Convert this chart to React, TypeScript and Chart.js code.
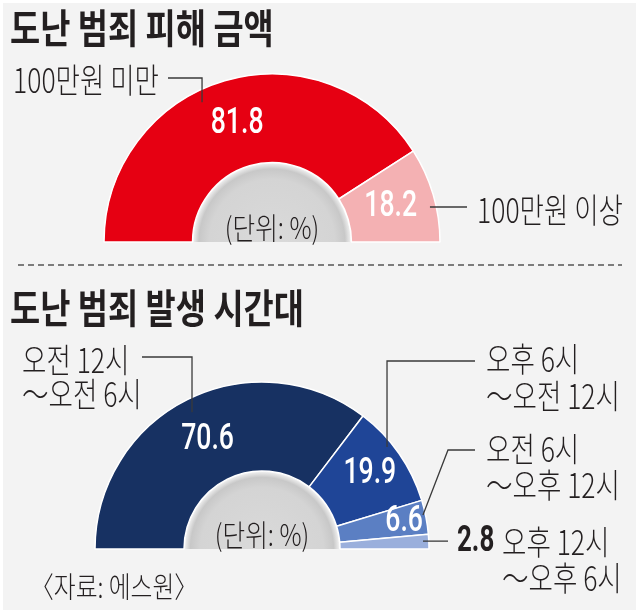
import { useEffect, useRef } from 'react';
import { Chart, registerables } from 'chart.js';

Chart.register(...registerables);

// 도난 범죄 피해 금액 (%)
const amountLabels = ['100만원 미만', '100만원 이상'];
const amountValues = [81.8, 18.2];
const amountColors = ['#e60012', '#f4b1b3'];

// 도난 범죄 발생 시간대 (%)
const timeLabels = ['오전 12시~오전 6시', '오후 6시~오전 12시', '오전 6시~오후 12시', '오후 12시~오후 6시'];
const timeValues = [70.6, 19.9, 6.6, 2.8];
const timeColors = ['#173162', '#1f4597', '#5b7fc3', '#9aafdc'];

const TEXT = '#231f20';
const KR = '"Noto Sans CJK KR", "Noto Sans", sans-serif';

interface Callout {
  i: number;
  x: number;
  y: number[];
  from: [number, number];
  kind: 'v' | 'h' | 'e';
  elbowX?: number;
  angle: number; // degrees, 0 = right, 90 = top
  depth: number; // fraction of outer radius
  valueX?: number;
}

const amountCallouts: Callout[] = [
  { i: 0, x: 13, y: [80], from: [168, 78], kind: 'v', angle: 116.6, depth: 0.93 },
  { i: 1, x: 477, y: [210], from: [467, 0], kind: 'h', angle: 12.5, depth: 0.963 },
];

const timeCallouts: Callout[] = [
  { i: 0, x: 22, y: [95, 129], from: [142, 92], kind: 'v', angle: 117.1, depth: 0.92 },
  { i: 1, x: 486, y: [94, 131], from: [475, 96], kind: 'v', angle: 39.2, depth: 0.966 },
  { i: 2, x: 486, y: [184, 220], from: [475, 185], kind: 'e', elbowX: 448, angle: 11.9, depth: 0.985 },
  { i: 3, x: 502, y: [277, 313], from: [448, 0], kind: 'h', angle: 2.8, depth: 0.965, valueX: 457 },
];

function drawText(
  ctx: CanvasRenderingContext2D,
  text: string,
  x: number,
  y: number,
  font: string,
  color: string,
  align: CanvasTextAlign,
  sx: number
) {
  ctx.save();
  ctx.translate(x, y);
  ctx.scale(sx, 1);
  ctx.font = font;
  ctx.fillStyle = color;
  ctx.textAlign = align;
  ctx.textBaseline = 'middle';
  ctx.fillText(text, 0, 0);
  ctx.restore();
}

interface HalfRingProps {
  labels: string[];
  values: number[];
  colors: string[];
  radius: number;
  cutout: string;
  width: number;
  height: number;
  top: number;
  padding: { left: number; right: number; top: number; bottom: number };
  valueT: (number | null)[];
  callouts: Callout[];
  unitDy: number;
}

function HalfRing(props: HalfRingProps) {
  const canvasRef = useRef<HTMLCanvasElement>(null);
  const chartRef = useRef<Chart | null>(null);

  useEffect(() => {
    if (!canvasRef.current) return;
    if (chartRef.current) chartRef.current.destroy();
    const { labels, values, colors, radius, cutout, padding, valueT, callouts, unitDy } = props;

    const decor = {
      id: 'decor',
      beforeDatasetsDraw(chart: Chart) {
        const arc: any = chart.getDatasetMeta(0).data[0];
        const { x, y, innerRadius } = arc;
        const ctx = chart.ctx;
        const r = innerRadius - 1;
        const g = ctx.createRadialGradient(x, y, 0, x, y, r);
        g.addColorStop(0, '#dadada');
        g.addColorStop(0.8, '#d4d4d4');
        g.addColorStop(0.93, '#c8c8c8');
        g.addColorStop(1, '#ededed');
        ctx.save();
        ctx.beginPath();
        ctx.moveTo(x - r, y);
        ctx.arc(x, y, r, Math.PI, 2 * Math.PI);
        ctx.closePath();
        ctx.fillStyle = g;
        ctx.fill();
        ctx.restore();
      },
      afterDatasetsDraw(chart: Chart) {
        const ctx = chart.ctx;
        const arcs: any[] = chart.getDatasetMeta(0).data;
        const { x: cx, y: cy, innerRadius, outerRadius } = arcs[0];

        arcs.forEach((a, i) => {
          const t = valueT[i];
          if (t == null) return;
          const mid = (a.startAngle + a.endAngle) / 2;
          const r = innerRadius + (outerRadius - innerRadius) * t;
          drawText(ctx, values[i].toFixed(1), cx + Math.cos(mid) * r, cy + Math.sin(mid) * r,
            '500 37px Roboto', '#ffffff', 'center', 0.72);
        });

        drawText(ctx, '(단위: %)', cx, cy - unitDy, `300 30px ${KR}`, TEXT, 'center', 0.82);

        ctx.save();
        ctx.strokeStyle = '#3a3a3a';
        ctx.lineWidth = 1.3;
        callouts.forEach((c) => {
          const ang = (c.angle * Math.PI) / 180;
          const ex = cx + Math.cos(ang) * outerRadius * c.depth;
          const ey = cy - Math.sin(ang) * outerRadius * c.depth;
          ctx.beginPath();
          if (c.kind === 'v') {
            ctx.moveTo(c.from[0], c.from[1]);
            ctx.lineTo(ex, c.from[1]);
          } else if (c.kind === 'e') {
            ctx.moveTo(c.from[0], c.from[1]);
            ctx.lineTo(c.elbowX as number, c.from[1]);
          } else {
            ctx.moveTo(c.from[0], ey);
          }
          ctx.lineTo(ex, ey);
          ctx.stroke();
        });
        ctx.restore();

        callouts.forEach((c) => {
          const parts = labels[c.i].split('~');
          parts.forEach((p, k) => {
            drawText(ctx, (k > 0 ? '～' : '') + p, c.x, c.y[k], `300 34px ${KR}`, TEXT, 'left', 0.78);
          });
          if (c.valueX != null) {
            drawText(ctx, values[c.i].toFixed(1), c.valueX, c.y[0], '700 36px Roboto', TEXT, 'left', 0.72);
          }
        });
      },
    };

    chartRef.current = new Chart(canvasRef.current, {
      type: 'doughnut',
      data: {
        labels,
        datasets: [
          {
            data: values,
            backgroundColor: colors,
            borderColor: '#ffffff',
            borderWidth: 1.5,
          },
        ],
      },
      options: {
        responsive: false,
        maintainAspectRatio: false,
        animation: false,
        events: [],
        rotation: -90,
        circumference: 180,
        cutout,
        radius,
        layout: { padding },
        plugins: {
          legend: { display: false },
          tooltip: { enabled: false },
        },
      },
      plugins: [decor],
    });

    return () => {
      if (chartRef.current) {
        chartRef.current.destroy();
        chartRef.current = null;
      }
    };
  }, []);

  return (
    <canvas
      ref={canvasRef}
      width={props.width}
      height={props.height}
      style={{ position: 'absolute', left: 0, top: props.top, width: props.width, height: props.height }}
    />
  );
}

const titleStyle: React.CSSProperties = {
  position: 'absolute',
  left: 10,
  margin: 0,
  font: `700 40px/1 ${KR}`,
  color: TEXT,
  whiteSpace: 'nowrap',
  transform: 'scaleX(0.82)',
  transformOrigin: 'left top',
};

export default function App() {
  return (
    <div style={{ position: 'fixed', left: 0, top: 0, width: 640, height: 613, background: '#ffffff', overflow: 'hidden' }}>
      <div style={{ position: 'absolute', left: 3, top: 3, width: 633, height: 607, background: '#f3f3f3' }} />
      <HalfRing
        labels={amountLabels}
        values={amountValues}
        colors={amountColors}
        radius={168}
        cutout="47.3%"
        width={640}
        height={262}
        top={0}
        padding={{ left: 104, right: 200, top: 74, bottom: 20 }}
        valueT={[0.5, 0.5]}
        callouts={amountCallouts}
        unitDy={14}
      />
      <HalfRing
        labels={timeLabels}
        values={timeValues}
        colors={timeColors}
        radius={167}
        cutout="46.7%"
        width={640}
        height={348}
        top={265}
        padding={{ left: 95, right: 211, top: 117, bottom: 64 }}
        valueT={[0.5, 0.6, 0.75, null]}
        callouts={timeCallouts}
        unitDy={14}
      />
      <svg width={640} height={613} style={{ position: 'absolute', left: 0, top: 0 }}>
        <line x1={18} y1={265} x2={622} y2={265} stroke="#555555" strokeWidth={1.5} strokeDasharray="6 4" />
      </svg>
      <div style={{ ...titleStyle, top: 6 }}>도난 범죄 피해 금액</div>
      <div style={{ ...titleStyle, top: 286 }}>도난 범죄 발생 시간대</div>
      <div
        style={{
          position: 'absolute',
          left: 30,
          top: 571,
          font: `300 29px/1 ${KR}`,
          color: TEXT,
          whiteSpace: 'nowrap',
          transform: 'scaleX(0.82)',
          transformOrigin: 'left top',
        }}
      >
        〈자료: 에스원〉
      </div>
    </div>
  );
}
